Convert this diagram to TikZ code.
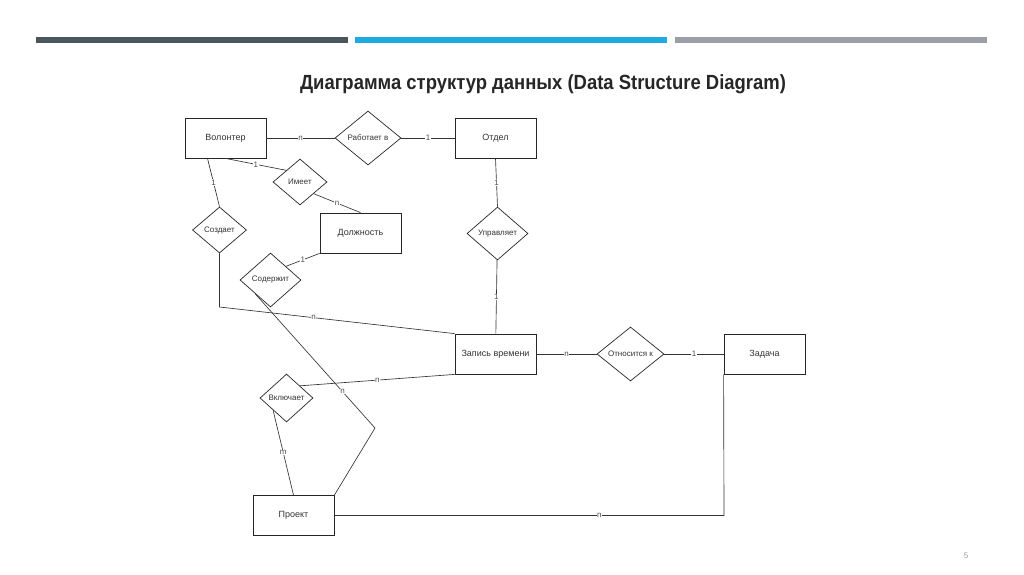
\documentclass[tikz,border=0pt]{standalone}
\usepackage{fontspec}
\setmainfont{Liberation Sans}
\newfontfamily\titlefont[FakeStretch=0.9]{Liberation Sans}
\usetikzlibrary{shapes.geometric}
\definecolor{bardark}{HTML}{4A555C}
\definecolor{barblue}{HTML}{1FA9E1}
\definecolor{bargrey}{HTML}{9A9EA5}
\tikzset{
  entity/.style = {draw=black!85, line width=0.8pt, minimum width=81pt, minimum height=40pt,
    inner sep=0pt, font=\fontsize{9}{10}\selectfont, text=black!80},
  relation/.style = {draw=black!85, diamond, line width=0.7pt, inner sep=0pt,
    minimum width=62pt, minimum height=53pt, font=\fontsize{8}{9}\selectfont, text=black!80},
  small relation/.style = {relation, minimum width=54pt, minimum height=46pt},
  card/.style = {fill=white, inner sep=0.5pt, font=\fontsize{8}{8}\selectfont, text=black!70},
  link/.style = {draw=black!80, line width=0.65pt}
}

\begin{document}
\begin{tikzpicture}[x=1pt, y=-1pt]
  \useasboundingbox (0,0) rectangle (1024,574);

  % header bars and title
  \fill[bardark] (36,37) rectangle (348,43);
  \fill[barblue] (355,37) rectangle (667,43);
  \fill[bargrey] (675,37) rectangle (987,43);
  \node[font=\titlefont\bfseries\fontsize{20.5}{24}\selectfont, text=black!85] (title) at (543,84)
    {Диаграмма структур данных (Data Structure Diagram)};

  % entities
  \node[entity] (vol) at (225.5,138) {Волонтер};
  \node[entity] (otdel) at (495.5,138) {Отдел};
  \node[entity] (dolzh) at (360.5,233) {Должность};
  \node[entity] (zapis) at (495.5,354) {Запись времени};
  \node[entity] (zadacha) at (764.5,354) {Задача};
  \node[entity] (proekt) at (293.5,515.5) {Проект};

  % relations
  \node[relation, minimum width=66pt, minimum height=54pt] (rabotaet) at (368,138) {Работает в};
  \node[small relation] (imeet) at (300,182) {Имеет};
  \node[small relation] (sozdaet) at (219.5,230) {Создает};
  \node[relation, minimum width=61pt] (upravl) at (497.5,233.5) {Управляет};
  \node[relation, minimum width=61pt, minimum height=54pt] (soderzh) at (270.5,280) {Содержит};
  \node[relation, minimum width=53pt, minimum height=48pt] (vkluch) at (286.5,398) {Включает};
  \node[relation, minimum width=67pt, minimum height=54pt] (otnos) at (630.5,354) {Относится к};

  % bends
  \coordinate (sozdbend) at (219.5,307);
  \coordinate (sodbend) at (375,428);
  \coordinate (prbend) at (724,515.5);

  % connectors
  \draw[link] (vol) -- node[card]{n} (rabotaet);
  \draw[link] (rabotaet) -- node[card]{1} (otdel);
  \draw[link] (vol.south) -- node[card]{1} (imeet.north west);
  \draw[link] (imeet.south east) -- node[card]{n} (dolzh.north);
  \draw[link] ([xshift=-18pt]vol.south) -- node[card]{1} (sozdaet.north);
  \draw[link] (sozdaet.south) -- (sozdbend) -- node[card, pos=0.4]{n} (zapis.north west);
  \draw[link] (otdel.south) -- node[card]{1} (upravl.north);
  \draw[link] (upravl) -- node[card]{1} (zapis);
  \draw[link] (soderzh.north east) -- node[card]{1} (dolzh.south west);
  \draw[link] (soderzh.south west) -- node[card, pos=0.73]{n} (sodbend) -- (proekt.north east);
  \draw[link] (vkluch.north east) -- node[card]{n} (zapis.south west);
  \draw[link] (vkluch.south west) -- node[card]{m} (proekt.north);
  \draw[link] (zapis) -- node[card]{n} (otnos);
  \draw[link] (otnos) -- node[card]{1} (zadacha);
  \draw[link] (proekt) -- node[card, pos=0.68]{n} (prbend) -- (zadacha.south west);

  % page number
  \node[text=black!40, font=\fontsize{8}{8}\selectfont] (pagenum) at (966,556) {5};
\end{tikzpicture}
\end{document}
